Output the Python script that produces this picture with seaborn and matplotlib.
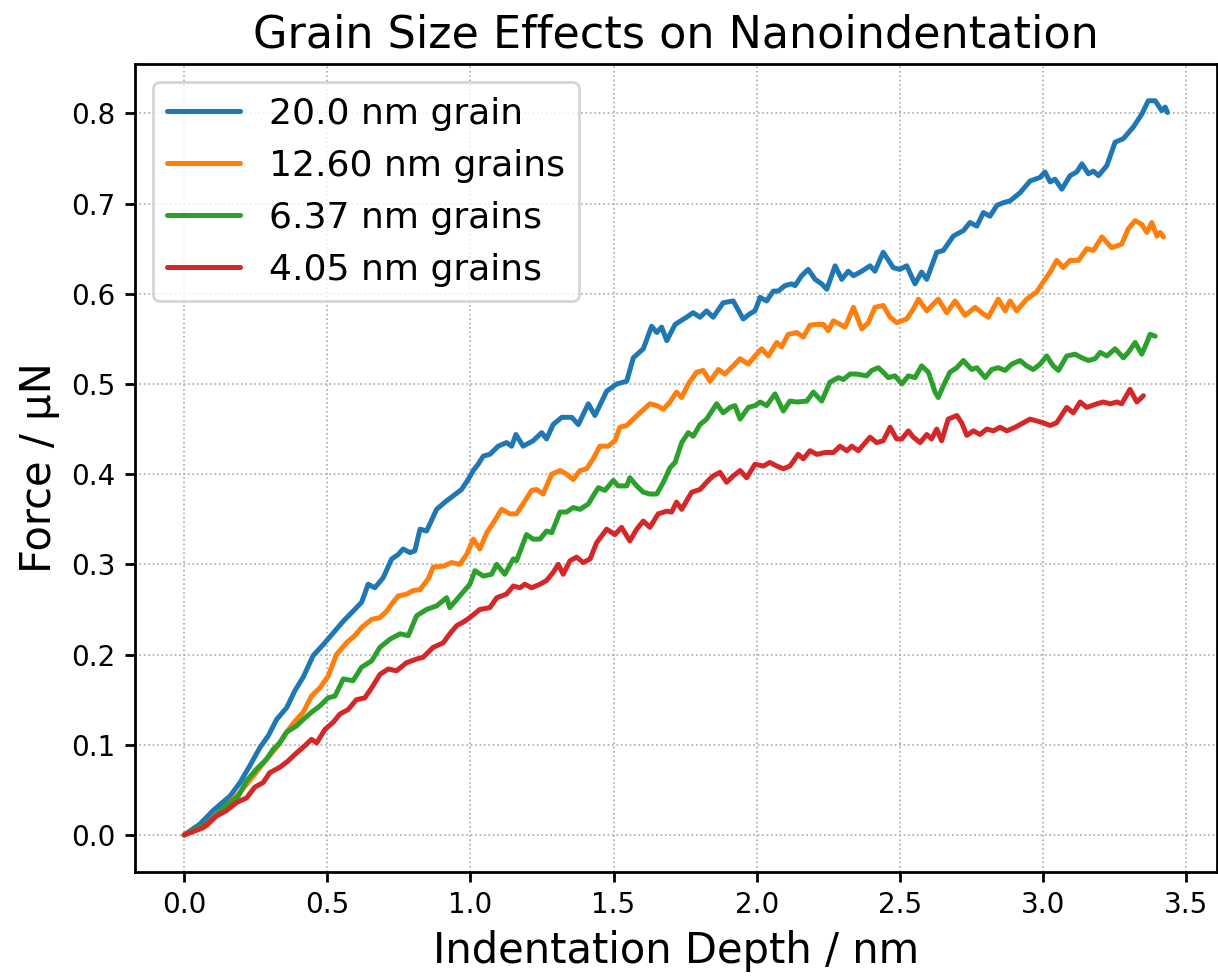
import matplotlib
matplotlib.use("Agg")
import matplotlib.pyplot as plt
import seaborn as sns
import pandas as pd

labels = ["20.0 nm grain", "12.60 nm grains", "6.37 nm grains", "4.05 nm grains"]
colors = ["#1f77b4", "#ff7f0e", "#2ca02c", "#d62728"]

depth_20 = [0, 0.055, 0.101, 0.16, 0.195, 0.23, 0.265, 0.294, 0.323, 0.358,
            0.387, 0.416, 0.451, 0.486, 0.521, 0.556, 0.59, 0.62, 0.643, 0.666,
            0.695, 0.725, 0.748, 0.765, 0.789, 0.806, 0.824, 0.847, 0.882, 0.911,
            0.94, 0.969, 0.992, 1.01, 1.027, 1.045, 1.068, 1.097, 1.126, 1.144,
            1.159, 1.184, 1.219, 1.249, 1.266, 1.289, 1.319, 1.354, 1.377, 1.412,
            1.435, 1.476, 1.511, 1.546, 1.569, 1.604, 1.633, 1.651, 1.668, 1.686,
            1.715, 1.755, 1.778, 1.802, 1.825, 1.848, 1.883, 1.918, 1.953, 1.977,
            1.994, 2.012, 2.035, 2.058, 2.075, 2.099, 2.122, 2.134, 2.157, 2.18,
            2.204, 2.227, 2.245, 2.274, 2.297, 2.32, 2.338, 2.367, 2.396, 2.413,
            2.442, 2.477, 2.5, 2.524, 2.553, 2.576, 2.594, 2.629, 2.652, 2.687,
            2.722, 2.745, 2.769, 2.792, 2.815, 2.839, 2.862, 2.885, 2.92, 2.955,
            2.99, 3.007, 3.025, 3.042, 3.066, 3.095, 3.118, 3.136, 3.159, 3.176,
            3.194, 3.223, 3.252, 3.281, 3.316, 3.345, 3.368, 3.392, 3.415, 3.427,
            3.435]
force_20 = [0, 0.012, 0.027, 0.043, 0.058, 0.077, 0.097, 0.11, 0.128, 0.141,
            0.16, 0.175, 0.199, 0.211, 0.224, 0.237, 0.248, 0.258, 0.278, 0.274,
            0.285, 0.306, 0.311, 0.317, 0.313, 0.315, 0.339, 0.337, 0.361, 0.369,
            0.376, 0.383, 0.394, 0.404, 0.411, 0.42, 0.422, 0.431, 0.435, 0.431,
            0.444, 0.431, 0.437, 0.446, 0.439, 0.455, 0.463, 0.463, 0.455, 0.478,
            0.465, 0.492, 0.5, 0.503, 0.529, 0.539, 0.564, 0.557, 0.563, 0.548,
            0.566, 0.574, 0.579, 0.574, 0.581, 0.574, 0.59, 0.592, 0.572, 0.578,
            0.581, 0.596, 0.592, 0.603, 0.603, 0.609, 0.611, 0.609, 0.62, 0.627,
            0.616, 0.611, 0.605, 0.631, 0.616, 0.625, 0.62, 0.625, 0.631, 0.625,
            0.646, 0.629, 0.627, 0.631, 0.611, 0.624, 0.616, 0.646, 0.648, 0.664,
            0.67, 0.679, 0.675, 0.69, 0.686, 0.698, 0.701, 0.703, 0.712, 0.725,
            0.729, 0.735, 0.724, 0.727, 0.716, 0.731, 0.735, 0.744, 0.733, 0.736,
            0.731, 0.742, 0.768, 0.772, 0.785, 0.799, 0.814, 0.814, 0.803, 0.807,
            0.801]

depth_1260 = [0, 0.078, 0.136, 0.195, 0.241, 0.288, 0.323, 0.358, 0.387, 0.416,
              0.445, 0.474, 0.503, 0.532, 0.567, 0.596, 0.62, 0.655, 0.684, 0.707,
              0.73, 0.748, 0.777, 0.8, 0.824, 0.853, 0.87, 0.905, 0.934, 0.963,
              0.987, 1.01, 1.033, 1.057, 1.08, 1.109, 1.138, 1.161, 1.19, 1.214,
              1.231, 1.254, 1.284, 1.313, 1.336, 1.359, 1.383, 1.406, 1.429, 1.452,
              1.481, 1.505, 1.522, 1.546, 1.569, 1.592, 1.627, 1.651, 1.674, 1.697,
              1.72, 1.738, 1.761, 1.79, 1.813, 1.837, 1.866, 1.889, 1.918, 1.942,
              1.971, 1.994, 2.017, 2.041, 2.07, 2.087, 2.11, 2.14, 2.163, 2.186,
              2.204, 2.233, 2.25, 2.268, 2.309, 2.338, 2.367, 2.39, 2.413, 2.442,
              2.466, 2.489, 2.524, 2.547, 2.565, 2.594, 2.634, 2.664, 2.693, 2.728,
              2.763, 2.786, 2.809, 2.844, 2.868, 2.885, 2.908, 2.943, 2.978, 3.001,
              3.025, 3.048, 3.071, 3.095, 3.124, 3.153, 3.176, 3.206, 3.24, 3.275,
              3.298, 3.322, 3.345, 3.363, 3.38, 3.398, 3.409, 3.421]
force_1260 = [0, 0.01, 0.029, 0.047, 0.065, 0.084, 0.097, 0.114, 0.126, 0.136,
              0.154, 0.163, 0.176, 0.2, 0.213, 0.221, 0.23, 0.239, 0.241, 0.248,
              0.258, 0.265, 0.267, 0.271, 0.272, 0.284, 0.297, 0.298, 0.302, 0.3,
              0.311, 0.328, 0.317, 0.335, 0.346, 0.361, 0.356, 0.356, 0.37, 0.382,
              0.383, 0.378, 0.4, 0.404, 0.4, 0.394, 0.404, 0.406, 0.417, 0.431,
              0.431, 0.437, 0.452, 0.454, 0.461, 0.468, 0.478, 0.476, 0.472, 0.48,
              0.491, 0.485, 0.5, 0.513, 0.515, 0.503, 0.516, 0.511, 0.52, 0.528,
              0.522, 0.531, 0.539, 0.531, 0.546, 0.541, 0.555, 0.557, 0.552, 0.565,
              0.566, 0.566, 0.559, 0.57, 0.563, 0.585, 0.561, 0.568, 0.585, 0.587,
              0.574, 0.568, 0.572, 0.583, 0.594, 0.581, 0.594, 0.579, 0.592, 0.576,
              0.585, 0.579, 0.574, 0.594, 0.581, 0.592, 0.581, 0.594, 0.602, 0.613,
              0.624, 0.637, 0.629, 0.637, 0.637, 0.65, 0.648, 0.663, 0.651, 0.655,
              0.672, 0.681, 0.677, 0.668, 0.679, 0.664, 0.668, 0.663]

depth_637 = [0, 0.078, 0.136, 0.189, 0.218, 0.253, 0.288, 0.311, 0.334, 0.358,
             0.393, 0.416, 0.445, 0.474, 0.503, 0.527, 0.556, 0.59, 0.62, 0.655,
             0.684, 0.719, 0.754, 0.783, 0.812, 0.847, 0.882, 0.917, 0.928, 0.963,
             0.998, 1.016, 1.045, 1.074, 1.092, 1.12, 1.15, 1.161, 1.196, 1.219,
             1.243, 1.266, 1.284, 1.313, 1.336, 1.359, 1.383, 1.412, 1.429, 1.447,
             1.47, 1.499, 1.516, 1.546, 1.557, 1.581, 1.604, 1.627, 1.651, 1.674,
             1.697, 1.715, 1.738, 1.761, 1.778, 1.802, 1.825, 1.86, 1.883, 1.907,
             1.924, 1.942, 1.971, 1.994, 2.012, 2.035, 2.064, 2.093, 2.116, 2.14,
             2.175, 2.198, 2.227, 2.256, 2.285, 2.303, 2.326, 2.349, 2.384, 2.402,
             2.425, 2.442, 2.46, 2.483, 2.507, 2.53, 2.553, 2.576, 2.6, 2.623,
             2.634, 2.652, 2.675, 2.699, 2.722, 2.751, 2.769, 2.798, 2.821, 2.844,
             2.868, 2.891, 2.92, 2.943, 2.966, 2.99, 3.013, 3.036, 3.054, 3.083,
             3.112, 3.136, 3.159, 3.182, 3.2, 3.223, 3.252, 3.281, 3.298, 3.322,
             3.345, 3.363, 3.374, 3.392]
force_637 = [0, 0.012, 0.03, 0.043, 0.06, 0.073, 0.084, 0.095, 0.102, 0.114,
             0.121, 0.128, 0.136, 0.143, 0.152, 0.154, 0.173, 0.171, 0.186, 0.193,
             0.208, 0.217, 0.223, 0.221, 0.243, 0.25, 0.254, 0.263, 0.252, 0.265,
             0.278, 0.293, 0.287, 0.289, 0.3, 0.289, 0.306, 0.304, 0.333, 0.328,
             0.328, 0.337, 0.335, 0.358, 0.358, 0.363, 0.361, 0.367, 0.376, 0.385,
             0.382, 0.393, 0.387, 0.387, 0.396, 0.387, 0.38, 0.378, 0.378, 0.391,
             0.407, 0.413, 0.435, 0.446, 0.442, 0.455, 0.461, 0.478, 0.468, 0.474,
             0.476, 0.461, 0.474, 0.476, 0.48, 0.476, 0.489, 0.47, 0.481, 0.48,
             0.481, 0.491, 0.481, 0.502, 0.507, 0.505, 0.511, 0.511, 0.509, 0.515,
             0.518, 0.513, 0.507, 0.509, 0.5, 0.509, 0.507, 0.52, 0.513, 0.491,
             0.485, 0.498, 0.513, 0.518, 0.526, 0.516, 0.518, 0.507, 0.516, 0.518,
             0.515, 0.522, 0.526, 0.52, 0.516, 0.522, 0.531, 0.52, 0.515, 0.531,
             0.533, 0.529, 0.526, 0.528, 0.535, 0.531, 0.539, 0.529, 0.535, 0.546,
             0.533, 0.546, 0.555, 0.553]

depth_405 = [0, 0.066, 0.113, 0.148, 0.183, 0.218, 0.247, 0.276, 0.299, 0.334,
             0.363, 0.393, 0.422, 0.445, 0.463, 0.492, 0.521, 0.544, 0.573, 0.602,
             0.631, 0.655, 0.684, 0.713, 0.742, 0.777, 0.812, 0.835, 0.87, 0.905,
             0.928, 0.952, 0.975, 0.998, 1.033, 1.068, 1.092, 1.126, 1.15, 1.173,
             1.19, 1.214, 1.243, 1.266, 1.289, 1.307, 1.324, 1.348, 1.371, 1.394,
             1.418, 1.441, 1.476, 1.505, 1.528, 1.557, 1.581, 1.604, 1.627, 1.656,
             1.686, 1.703, 1.72, 1.738, 1.773, 1.802, 1.831, 1.848, 1.872, 1.895,
             1.918, 1.942, 1.965, 1.994, 2.023, 2.046, 2.07, 2.093, 2.116, 2.145,
             2.163, 2.186, 2.21, 2.239, 2.268, 2.291, 2.315, 2.332, 2.355, 2.396,
             2.419, 2.442, 2.466, 2.489, 2.507, 2.53, 2.547, 2.571, 2.594, 2.611,
             2.629, 2.646, 2.669, 2.699, 2.716, 2.734, 2.757, 2.78, 2.804, 2.827,
             2.85, 2.874, 2.903, 2.932, 2.955, 2.978, 3.001, 3.025, 3.048, 3.083,
             3.106, 3.13, 3.153, 3.188, 3.211, 3.235, 3.258, 3.275, 3.304, 3.328,
             3.351]
force_405 = [0, 0.008, 0.021, 0.027, 0.036, 0.041, 0.053, 0.058, 0.069, 0.075,
             0.082, 0.091, 0.099, 0.106, 0.102, 0.117, 0.125, 0.134, 0.139, 0.15,
             0.152, 0.163, 0.178, 0.184, 0.182, 0.191, 0.195, 0.197, 0.208, 0.213,
             0.223, 0.232, 0.236, 0.241, 0.25, 0.252, 0.263, 0.267, 0.276, 0.274,
             0.278, 0.274, 0.278, 0.282, 0.291, 0.3, 0.289, 0.304, 0.308, 0.302,
             0.306, 0.324, 0.339, 0.333, 0.341, 0.326, 0.339, 0.348, 0.341, 0.356,
             0.359, 0.358, 0.369, 0.361, 0.38, 0.383, 0.393, 0.398, 0.402, 0.391,
             0.398, 0.404, 0.396, 0.411, 0.409, 0.413, 0.409, 0.406, 0.409, 0.422,
             0.417, 0.426, 0.422, 0.424, 0.424, 0.431, 0.426, 0.431, 0.426, 0.441,
             0.435, 0.437, 0.452, 0.439, 0.439, 0.448, 0.441, 0.435, 0.444, 0.439,
             0.45, 0.437, 0.461, 0.465, 0.457, 0.443, 0.448, 0.444, 0.45, 0.448,
             0.452, 0.448, 0.452, 0.457, 0.461, 0.459, 0.457, 0.454, 0.457, 0.474,
             0.468, 0.48, 0.474, 0.478, 0.48, 0.478, 0.48, 0.478, 0.494, 0.48,
             0.487]

series = [(depth_20, force_20), (depth_1260, force_1260),
          (depth_637, force_637), (depth_405, force_405)]

sns.set_style("ticks")
plt.rcParams["font.family"] = ["DejaVu Sans"]
plt.rcParams["axes.edgecolor"] = "black"
plt.rcParams["xtick.color"] = "black"
plt.rcParams["ytick.color"] = "black"
plt.rcParams["text.color"] = "black"
plt.rcParams["axes.labelcolor"] = "black"

fig = plt.figure(figsize=(6.09, 4.88), dpi=200)
ax = fig.add_axes([0.1108, 0.1069, 0.9989 - 0.1108, 0.9344 - 0.1069])

for (d, f), lab, col in zip(series, labels, colors):
    df = pd.DataFrame({"depth": d, "force": f})
    sns.lineplot(data=df, x="depth", y="force", color=col, label=lab,
                 linewidth=1.8, sort=False, estimator=None, ax=ax)

ax.grid(True, linestyle=":", linewidth=0.6, color="#aaaaaa")
for s in ax.spines.values():
    s.set_linewidth(1.0)
    s.set_color("black")
ax.tick_params(axis="both", labelsize=10, width=1.0, length=3.5, direction="out")
ax.set_title("Grain Size Effects on Nanoindentation", fontsize=16)
ax.set_xlabel("Indentation Depth / nm", fontsize=15)
ax.set_ylabel("Force / µN", fontsize=15)
ax.set_xticks([0.0, 0.5, 1.0, 1.5, 2.0, 2.5, 3.0, 3.5])
ax.legend(loc="upper left", fontsize=13, frameon=True)

fig.savefig("out.png", dpi=200)
